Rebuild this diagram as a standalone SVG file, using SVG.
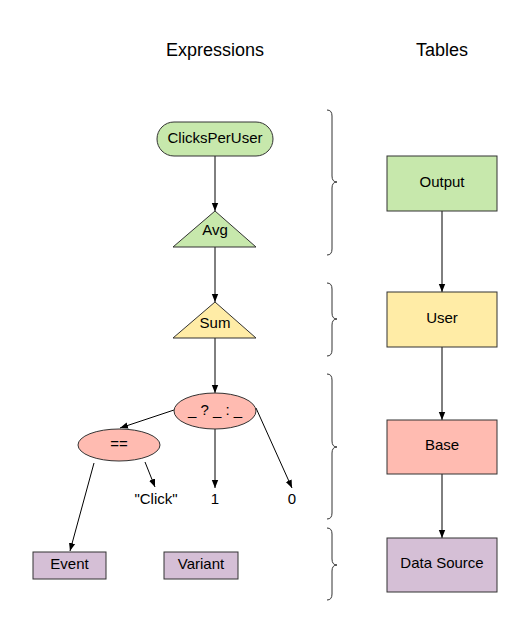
<svg xmlns="http://www.w3.org/2000/svg" width="530" height="640" viewBox="0 0 530 640">
<style>
text{font-family:"Liberation Sans",Arial,sans-serif;fill:#000;text-anchor:middle}
.h{font-size:18px}
.t{font-size:15px}
.s{stroke:#333;stroke-width:1}
.g{fill:#c7e8ac}
.y{fill:#ffeca6}
.r{fill:#ffbbb1}
.p{fill:#d5bfd6}
.c{fill:none;stroke:#000;stroke-width:1}
.b{fill:none;stroke:#333;stroke-width:1}
</style>
<defs>
<marker id="a" viewBox="0 0 10 10" refX="10" refY="5" markerWidth="8" markerHeight="8" markerUnits="userSpaceOnUse" orient="auto">
<path d="M0,1 L10,5 L0,9 Z" fill="#000"/>
</marker>
</defs>
<rect width="530" height="640" fill="#fff"/>
<text class="h" x="215" y="56">Expressions</text>
<text class="h" x="442" y="56">Tables</text>
<g id="connectors">
<line class="c" x1="215" y1="156" x2="215" y2="211" marker-end="url(#a)"/>
<line class="c" x1="215" y1="247" x2="215" y2="302" marker-end="url(#a)"/>
<line class="c" x1="215" y1="338" x2="215" y2="393" marker-end="url(#a)"/>
<line class="c" x1="174" y1="410" x2="120" y2="428" marker-end="url(#a)"/>
<line class="c" x1="215" y1="429" x2="215" y2="488" marker-end="url(#a)"/>
<line class="c" x1="256" y1="408" x2="292" y2="488" marker-end="url(#a)"/>
<line class="c" x1="145" y1="462" x2="155" y2="487" marker-end="url(#a)"/>
<line class="c" x1="94" y1="463" x2="70" y2="551" marker-end="url(#a)"/>
<line class="c" x1="442" y1="211" x2="442" y2="292" marker-end="url(#a)"/>
<line class="c" x1="442" y1="347" x2="442" y2="420" marker-end="url(#a)"/>
<line class="c" x1="442" y1="474" x2="442" y2="538" marker-end="url(#a)"/>
</g>
<g id="braces">
<path class="b" d="M327,110 Q332,110 332,116 L332,176 Q332,182 337,182 Q332,182 332,188 L332,249 Q332,255 327,255"/>
<path class="b" d="M327,283 Q332,283 332,289 L332,313 Q332,319 337,319 Q332,319 332,325 L332,350 Q332,356 327,356"/>
<path class="b" d="M327,374 Q332,374 332,380 L332,441 Q332,447 337,447 Q332,447 332,453 L332,513 Q332,519 327,519"/>
<path class="b" d="M327,528 Q332,528 332,534 L332,559 Q332,565 337,565 Q332,565 332,571 L332,594 Q332,600 327,600"/>
</g>
<g id="clicksPerUser">
<rect class="s g" x="157" y="122" width="116" height="34" rx="17"/>
<text class="t" x="215" y="143">ClicksPerUser</text>
</g>
<g id="avg">
<polygon class="s g" points="215,211 173,247 256,247"/>
<text class="t" x="215" y="234.5">Avg</text>
</g>
<g id="sum">
<polygon class="s y" points="215,302 173,338 256,338"/>
<text class="t" x="215" y="327.5">Sum</text>
</g>
<g id="ternary">
<ellipse class="s r" cx="215" cy="411" rx="41" ry="18"/>
<text class="t" x="215" y="415">_ ? _ : _</text>
</g>
<g id="eq">
<ellipse class="s r" cx="119" cy="445" rx="41" ry="16"/>
<text class="t" x="119" y="449">==</text>
</g>
<g id="click"><text class="t" x="156" y="504">"Click"</text></g>
<g id="one"><text class="t" x="215" y="504">1</text></g>
<g id="zero"><text class="t" x="292" y="504">0</text></g>
<g id="event">
<rect class="s p" x="33" y="552" width="73" height="27"/>
<text class="t" x="69.5" y="568.5">Event</text>
</g>
<g id="variant">
<rect class="s p" x="164" y="552" width="74" height="27"/>
<text class="t" x="201" y="568.5">Variant</text>
</g>
<g id="output">
<rect class="s g" x="387" y="156" width="110" height="55"/>
<text class="t" x="442" y="186.5">Output</text>
</g>
<g id="user">
<rect class="s y" x="387" y="292" width="110" height="55"/>
<text class="t" x="442" y="322.5">User</text>
</g>
<g id="base">
<rect class="s r" x="387" y="420" width="110" height="54"/>
<text class="t" x="442" y="450">Base</text>
</g>
<g id="dataSource">
<rect class="s p" x="387" y="538" width="110" height="54"/>
<text class="t" x="442" y="568">Data Source</text>
</g>
</svg>
